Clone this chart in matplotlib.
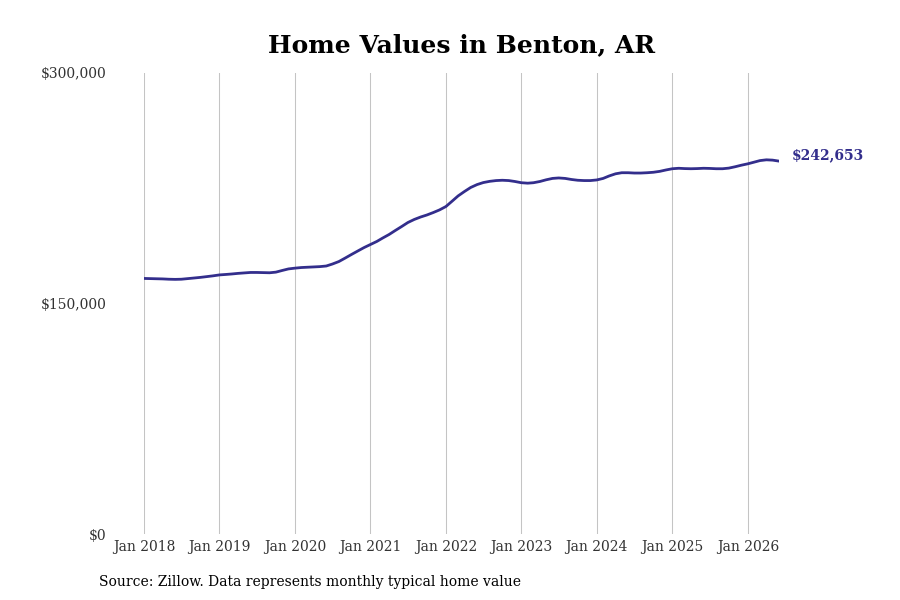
import matplotlib
matplotlib.use("Agg")
import matplotlib.pyplot as plt
import pandas as pd

plt.rcParams['font.family'] = ['DejaVu Serif']

start_month = "2018-01-01"
values = [
    166.3, 166.2, 166.1, 166.0, 165.8, 165.7, 165.8, 166.2, 166.6, 167.0, 167.5, 168.0,
    168.6, 168.9, 169.2, 169.6, 169.9, 170.2, 170.2, 170.1, 170.0, 170.4, 171.5, 172.5,
    173.0, 173.4, 173.6, 173.8, 174.0, 174.4, 175.7, 177.3, 179.6, 181.9, 184.2, 186.4,
    188.4, 190.4, 192.6, 194.9, 197.5, 200.1, 202.7, 204.7, 206.3, 207.6, 209.2, 210.9,
    213.1, 216.7, 220.0, 222.9, 225.5, 227.4, 228.7, 229.5, 230.0, 230.2, 230.0, 229.4,
    228.6, 228.3, 228.6, 229.4, 230.5, 231.4, 231.7, 231.4, 230.7, 230.2, 230.0, 230.0,
    230.4, 231.4, 233.0, 234.4, 235.1, 235.1, 234.9, 234.9, 235.1, 235.4, 236.0, 236.9,
    237.7, 238.0, 237.8, 237.7, 237.8, 238.0, 237.9, 237.7, 237.7, 238.1, 239.0, 240.0,
    240.9, 242.0, 243.0, 243.5, 243.3, 242.653,
]
values = [v * 1000 for v in values]
dates = pd.date_range(start_month, periods=len(values), freq="MS")
tick_years = list(range(2018, 2027))
tick_dates = [pd.Timestamp(f"{y}-01-01") for y in tick_years]
tick_labels = [f"Jan {y}" for y in tick_years]
y_ticks = [0, 150000, 300000]
y_labels = ["$0", "$150,000", "$300,000"]
last_label = "$242,653"
title = "Home Values in Benton, AR"
source = "Source: Zillow. Data represents monthly typical home value"

line_color = "#332e8c"

fig = plt.figure(figsize=(9, 6), dpi=100)
ax = fig.add_axes([144/900, 66/600, (779-144)/900, 461/600])
ax.plot(dates, values, color=line_color, lw=2.0, solid_capstyle='round')
ax.set_xlim(dates[0], dates[-1])
ax.set_ylim(0, 300000)
ax.set_xticks(tick_dates)
ax.set_xticklabels(tick_labels)
ax.set_yticks(y_ticks)
ax.set_yticklabels(y_labels)
ax.tick_params(axis='both', length=0, labelsize=10, colors='#333333')
ax.tick_params(axis='y', pad=27)
ax.tick_params(axis='x', pad=4)
ax.grid(axis='x', color='#c4c4c4', lw=0.75)
ax.grid(axis='y', visible=False)
for s in ax.spines.values():
    s.set_visible(False)
ax.set_title(title, fontsize=18, fontweight='bold', pad=15)
ax.annotate(last_label, xy=(dates[-1], values[-1]), xytext=(13, 6),
            textcoords='offset pixels', color=line_color, fontsize=10,
            fontweight='bold', va='center', ha='left', annotation_clip=False)
fig.text(99/900, 1 - 582/600, source, fontsize=10, va='center', ha='left', color='black')
fig.savefig("out.png", dpi=100)
